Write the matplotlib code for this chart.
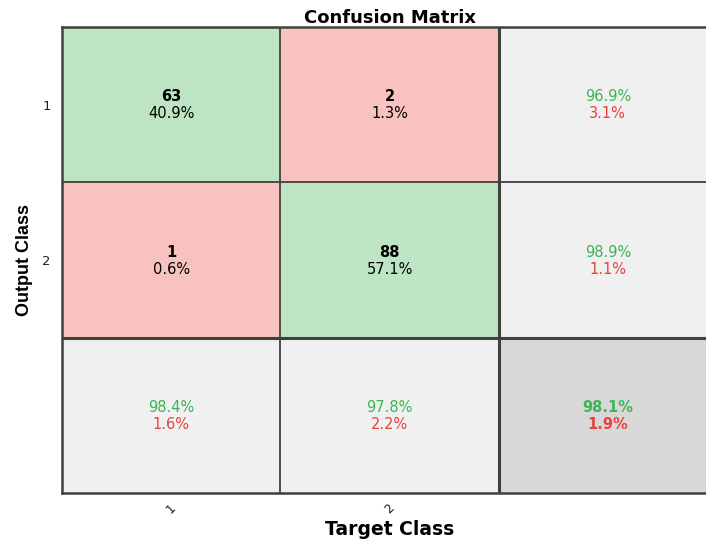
import numpy as np
import matplotlib
matplotlib.use("Agg")
import matplotlib.pyplot as plt
from matplotlib.colors import to_rgb

plt.rcParams['font.family'] = ['DejaVu Sans']

classes = ["1", "2"]
counts = np.array([[63, 2],
                   [1, 88]])
title = "Confusion Matrix"
xlabel = "Target Class"
ylabel = "Output Class"

GREEN_BG = "#bde5c4"
RED_BG = "#f8c3bf"
GRAY_BG = "#f0f0f0"
DGRAY_BG = "#d8d8d8"
GREEN_TXT = "#3cb553"
RED_TXT = "#e8423c"
LINE = "#404040"

n = len(classes)
total = counts.sum()

fig = plt.figure(figsize=(7.06, 5.44), dpi=100)
ax = fig.add_axes([62/706, 51/544, 655/706, 466/544])

# background colours
img = np.zeros((n + 1, n + 1, 3))
for i in range(n + 1):
    for j in range(n + 1):
        if i < n and j < n:
            c = GREEN_BG if i == j else RED_BG
        elif i == n and j == n:
            c = DGRAY_BG
        else:
            c = GRAY_BG
        img[i, j] = to_rgb(c)
ax.imshow(img, extent=(0.5, n + 1.5, n + 1.5, 0.5), aspect='auto', interpolation='nearest')

fs = 10.5
dy1, dy2 = -0.05, 0.06
for i in range(n):
    for j in range(n):
        x, y = j + 1, i + 1
        ax.text(x, y + dy1, f"{counts[i, j]}", ha='center', va='center',
                fontsize=fs, fontweight='bold', color='black')
        ax.text(x, y + dy2, f"{100 * counts[i, j] / total:.1f}%", ha='center', va='center',
                fontsize=fs, color='black')

def summary(x, y, correct, den, bold=False):
    p = 100 * correct / den
    w = 'bold' if bold else 'normal'
    ax.text(x, y + dy1, f"{p:.1f}%", ha='center', va='center', fontsize=fs, color=GREEN_TXT, fontweight=w)
    ax.text(x, y + dy2, f"{100 - p:.1f}%", ha='center', va='center', fontsize=fs, color=RED_TXT, fontweight=w)

for i in range(n):
    summary(n + 1, i + 1, counts[i, i], counts[i, :].sum())
for j in range(n):
    summary(j + 1, n + 1, counts[j, j], counts[:, j].sum())
summary(n + 1, n + 1, np.trace(counts), total, bold=True)

for k in range(1, n + 1):
    ax.axhline(k + 0.5, color=LINE, lw=1.3)
    ax.axvline(k + 0.5, color=LINE, lw=1.3)
ax.axhline(n + 0.5, color=LINE, lw=2.2)
ax.axvline(n + 0.5, color=LINE, lw=2.2)

ax.set_xlim(0.5, n + 1.5)
ax.set_ylim(n + 1.5, 0.5)
for s in ax.spines.values():
    s.set_color(LINE)
    s.set_linewidth(1.8)

ax.set_xticks(np.arange(1, n + 1))
ax.set_xticklabels(classes, rotation=45, fontsize=9, color='#222222')
ax.set_yticks(np.arange(1, n + 1))
ax.set_yticklabels(classes, fontsize=9.5, color='#222222')
ax.tick_params(length=0, pad=8)
ax.tick_params(axis='x', pad=6)

ax.set_title(title, fontsize=13, fontweight='bold', pad=3)
ax.set_xlabel(xlabel, fontsize=13.5, fontweight='bold', labelpad=3)
ax.set_ylabel(ylabel, fontsize=13, fontweight='bold', labelpad=7,
              family=['Liberation Sans', 'DejaVu Sans'])

fig.savefig("out.png", dpi=100)
